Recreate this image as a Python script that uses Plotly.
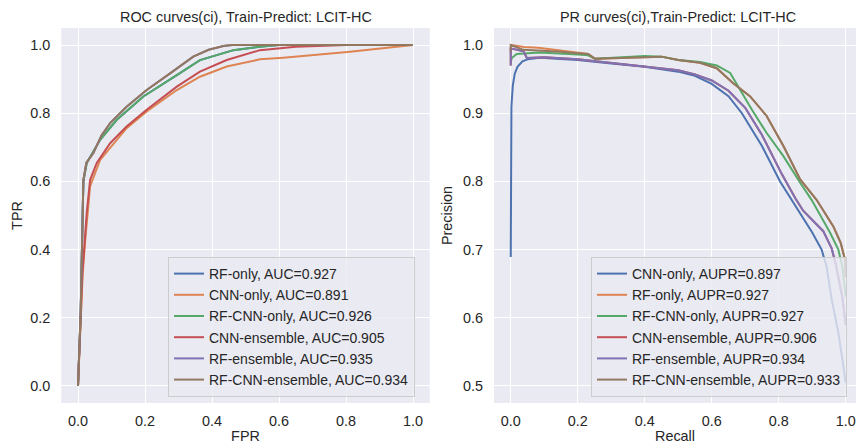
import plotly.graph_objects as go

# ---------------- data ----------------
roc_names = ["RF-only, AUC=0.927", "CNN-only, AUC=0.891", "RF-CNN-only, AUC=0.926",
             "CNN-ensemble, AUC=0.905", "RF-ensemble, AUC=0.935", "RF-CNN-ensemble, AUC=0.934"]
pr_names = ["CNN-only, AUPR=0.897", "RF-only, AUPR=0.927", "RF-CNN-only, AUPR=0.927",
            "CNN-ensemble, AUPR=0.906", "RF-ensemble, AUPR=0.934", "RF-CNN-ensemble, AUPR=0.933"]
colors = ["#4C72B0", "#DD8452", "#55A868", "#C44E52", "#8172B3", "#937860"]

# ROC curves (FPR, TPR)
roc_fpr_rf = [0, 0.004, 0.008, 0.012, 0.016, 0.026, 0.066, 0.115, 0.195, 0.295, 0.364, 0.464, 0.543, 0.6, 0.8, 1.0]
roc_tpr_rf = [0, 0.1, 0.216, 0.41, 0.6, 0.654, 0.722, 0.780, 0.849, 0.912, 0.956, 0.985, 0.995, 1.0, 1.0, 1.0]
roc_fpr_cnn = [0, 0.004, 0.008, 0.014, 0.021, 0.028, 0.036, 0.066, 0.145, 0.205, 0.295, 0.364, 0.444, 0.543, 0.613, 0.812, 0.9, 1.0]
roc_tpr_cnn = [0, 0.1, 0.21, 0.33, 0.42, 0.5, 0.585, 0.663, 0.756, 0.805, 0.868, 0.907, 0.937, 0.958, 0.963, 0.980, 0.99, 1.0]
roc_fpr_rfcnn = [0, 0.004, 0.008, 0.012, 0.016, 0.026, 0.066, 0.115, 0.195, 0.295, 0.364, 0.464, 0.543, 0.6, 0.8, 1.0]
roc_tpr_rfcnn = [0, 0.1, 0.216, 0.41, 0.6, 0.654, 0.722, 0.780, 0.849, 0.912, 0.956, 0.985, 0.995, 1.0, 1.0, 1.0]
roc_fpr_cnnens = [0, 0.004, 0.008, 0.013, 0.019, 0.026, 0.036, 0.056, 0.096, 0.145, 0.205, 0.295, 0.364, 0.444, 0.543, 0.65, 0.8, 1.0]
roc_tpr_cnnens = [0, 0.1, 0.216, 0.33, 0.41, 0.508, 0.604, 0.654, 0.712, 0.761, 0.810, 0.878, 0.922, 0.956, 0.985, 0.995, 1.0, 1.0]
roc_fpr_rfens = [0, 0.004, 0.008, 0.012, 0.016, 0.025, 0.046, 0.07, 0.096, 0.145, 0.205, 0.275, 0.344, 0.39, 0.434, 0.46, 0.7, 1.0]
roc_tpr_rfens = [0, 0.1, 0.216, 0.41, 0.604, 0.655, 0.683, 0.735, 0.771, 0.819, 0.868, 0.917, 0.966, 0.986, 0.997, 1.0, 1.0, 1.0]
roc_fpr_rfcnnens = [0, 0.004, 0.008, 0.012, 0.016, 0.025, 0.046, 0.07, 0.096, 0.145, 0.205, 0.275, 0.344, 0.39, 0.434, 0.46, 0.7, 1.0]
roc_tpr_rfcnnens = [0, 0.1, 0.216, 0.41, 0.604, 0.655, 0.683, 0.735, 0.771, 0.819, 0.868, 0.917, 0.966, 0.986, 0.997, 1.0, 1.0, 1.0]

# PR curves (Recall, Precision)
pr_rec_cnn = [0, 0, 0.002, 0.006, 0.012, 0.02, 0.035, 0.05, 0.08, 0.1, 0.2, 0.3, 0.4, 0.5, 0.55, 0.6, 0.65, 0.69,
              0.75, 0.804, 0.85, 0.9, 0.928, 0.943, 0.958, 0.978, 0.993, 1.0]
pr_prec_cnn = [0.689, 0.85, 0.91, 0.94, 0.958, 0.968, 0.976, 0.979, 0.981, 0.981, 0.978, 0.973, 0.968, 0.961, 0.955,
               0.943, 0.925, 0.9, 0.852, 0.8, 0.765, 0.725, 0.700, 0.675, 0.627, 0.578, 0.529, 0.505]
pr_rec_rf = [0, 0.04, 0.082, 0.15, 0.2, 0.231, 0.251, 0.3, 0.4, 0.45, 0.5, 0.565, 0.615, 0.664, 0.714, 0.764, 0.814,
             0.864, 0.913, 0.963, 0.985, 0.998, 1.0]
pr_prec_rf = [1.0, 0.997, 0.996, 0.992, 0.989, 0.987, 0.980, 0.981, 0.983, 0.983, 0.978, 0.974, 0.966, 0.944, 0.925,
              0.896, 0.852, 0.803, 0.773, 0.734, 0.71, 0.685, 0.66]
pr_rec_rfcnn = [0, 0.003, 0.018, 0.05, 0.087, 0.2, 0.231, 0.251, 0.3, 0.4, 0.45, 0.5, 0.565, 0.615, 0.655, 0.684,
                0.72, 0.764, 0.814, 0.864, 0.898, 0.953, 0.978, 0.99, 1.0]
pr_prec_rfcnn = [0.975, 0.981, 0.987, 0.988, 0.989, 0.986, 0.985, 0.980, 0.981, 0.984, 0.983, 0.978, 0.975, 0.970,
                 0.959, 0.935, 0.905, 0.871, 0.837, 0.798, 0.773, 0.725, 0.70, 0.675, 0.631]
pr_rec_cnnens = [0, 0, 0.01, 0.038, 0.048, 0.1, 0.2, 0.3, 0.4, 0.5, 0.55, 0.6, 0.65, 0.7, 0.75, 0.81, 0.85, 0.873,
                 0.933, 0.958, 0.971, 0.99, 1.0]
pr_prec_cnnens = [0.97, 0.995, 0.994, 0.991, 0.981, 0.982, 0.979, 0.974, 0.969, 0.963, 0.957, 0.948, 0.933, 0.908,
                  0.868, 0.81, 0.775, 0.757, 0.727, 0.702, 0.677, 0.63, 0.59]
pr_rec_rfens = [0, 0, 0.01, 0.038, 0.048, 0.1, 0.2, 0.3, 0.4, 0.5, 0.55, 0.6, 0.65, 0.7, 0.75, 0.81, 0.85, 0.873,
                0.933, 0.958, 0.971, 0.99, 1.0]
pr_prec_rfens = [0.97, 0.995, 0.994, 0.991, 0.981, 0.982, 0.979, 0.974, 0.969, 0.963, 0.957, 0.948, 0.933, 0.908,
                 0.868, 0.81, 0.775, 0.757, 0.727, 0.702, 0.677, 0.63, 0.59]
pr_rec_rfcnnens = [0, 0, 0.038, 0.082, 0.15, 0.2, 0.231, 0.251, 0.3, 0.4, 0.45, 0.5, 0.565, 0.615, 0.664, 0.714,
                   0.764, 0.814, 0.864, 0.913, 0.963, 0.985, 0.998, 1.0]
pr_prec_rfcnnens = [0.99, 1.0, 0.993, 0.992, 0.99, 0.988, 0.987, 0.980, 0.981, 0.983, 0.983, 0.978, 0.974, 0.966,
                    0.944, 0.925, 0.896, 0.852, 0.803, 0.773, 0.734, 0.71, 0.685, 0.66]

roc_data = [(roc_fpr_rf, roc_tpr_rf), (roc_fpr_cnn, roc_tpr_cnn), (roc_fpr_rfcnn, roc_tpr_rfcnn),
            (roc_fpr_cnnens, roc_tpr_cnnens), (roc_fpr_rfens, roc_tpr_rfens), (roc_fpr_rfcnnens, roc_tpr_rfcnnens)]
pr_data = [(pr_rec_cnn, pr_prec_cnn), (pr_rec_rf, pr_prec_rf), (pr_rec_rfcnn, pr_prec_rfcnn),
           (pr_rec_cnnens, pr_prec_cnnens), (pr_rec_rfens, pr_prec_rfens), (pr_rec_rfcnnens, pr_prec_rfcnnens)]

# ---------------- figure ----------------
W, H = 856, 444
FONT = "Liberation Sans, Arial, sans-serif"
TXT = "#262626"
FS = 14.4
LFS = 14

fig = go.Figure()
for i, (x, y) in enumerate(roc_data):
    fig.add_trace(go.Scatter(x=x, y=y, mode="lines", name=roc_names[i],
                             line=dict(color=colors[i], width=2), xaxis="x", yaxis="y", legend="legend"))
for i, (x, y) in enumerate(pr_data):
    fig.add_trace(go.Scatter(x=x, y=y, mode="lines", name=pr_names[i],
                             line=dict(color=colors[i], width=2), xaxis="x2", yaxis="y2", legend="legend2"))

def px_x(p):
    return p / W

def px_y(p):
    return 1 - p / H

ydom = [px_y(403), px_y(28)]
xaxis_common = dict(showgrid=True, gridcolor="white", gridwidth=1.3, zeroline=False, showline=False,
                    ticks="", tickfont=dict(family=FONT, size=FS, color=TXT), ticklabelstandoff=8)
yaxis_common = dict(showgrid=True, gridcolor="white", gridwidth=1.3, zeroline=False, showline=False,
                    ticks="", tickfont=dict(family=FONT, size=FS, color=TXT), ticklabelstandoff=10)

fig.update_layout(
    width=W, height=H, margin=dict(l=0, r=0, t=0, b=0),
    paper_bgcolor="white", plot_bgcolor="#EAEAF2",
    font=dict(family=FONT, size=FS, color=TXT),
    xaxis=dict(domain=[px_x(61.25), px_x(429.75)], range=[-0.05, 1.05], tickvals=[0, 0.2, 0.4, 0.6, 0.8, 1.0],
               ticktext=["0.0", "0.2", "0.4", "0.6", "0.8", "1.0"], anchor="y",
               title=dict(text="FPR", standoff=2, font=dict(size=FS)), **xaxis_common),
    yaxis=dict(domain=ydom, range=[-0.05, 1.05], tickvals=[0, 0.2, 0.4, 0.6, 0.8, 1.0],
               ticktext=["0.0", "0.2", "0.4", "0.6", "0.8", "1.0"], anchor="x",
               title=dict(text="TPR", standoff=4, font=dict(size=FS)), **yaxis_common),
    xaxis2=dict(domain=[px_x(494), 1.0], range=[-0.05, 1.0307], tickvals=[0, 0.2, 0.4, 0.6, 0.8, 1.0],
                ticktext=["0.0", "0.2", "0.4", "0.6", "0.8", "1.0"], anchor="y2",
                title=dict(text="Recall", standoff=2, font=dict(size=FS)), **xaxis_common),
    yaxis2=dict(domain=ydom, range=[0.475, 1.025], tickvals=[0.5, 0.6, 0.7, 0.8, 0.9, 1.0],
                ticktext=["0.5", "0.6", "0.7", "0.8", "0.9", "1.0"], anchor="x2",
                title=dict(text="Precision", standoff=6, font=dict(size=FS)), **yaxis_common),
    legend=dict(x=px_x(168), y=px_y(397), xanchor="left", yanchor="bottom",
                bgcolor="rgba(234,234,242,0.8)", bordercolor="#cccccc", borderwidth=1,
                font=dict(family=FONT, size=LFS, color=TXT), tracegroupgap=0),
    legend2=dict(x=px_x(591), y=px_y(397), xanchor="left", yanchor="bottom",
                 bgcolor="rgba(234,234,242,0.8)", bordercolor="#cccccc", borderwidth=1,
                 font=dict(family=FONT, size=LFS, color=TXT), tracegroupgap=0),
    showlegend=True,
    annotations=[
        dict(text="ROC curves(ci), Train-Predict: LCIT-HC", x=px_x(245.5), y=px_y(17), xref="paper", yref="paper",
             xanchor="center", yanchor="middle", showarrow=False, font=dict(family=FONT, size=FS, color=TXT)),
        dict(text="PR curves(ci),Train-Predict: LCIT-HC", x=px_x(678.25), y=px_y(17), xref="paper", yref="paper",
             xanchor="center", yanchor="middle", showarrow=False, font=dict(family=FONT, size=FS, color=TXT)),
    ],
)

fig.write_html("out.html")
